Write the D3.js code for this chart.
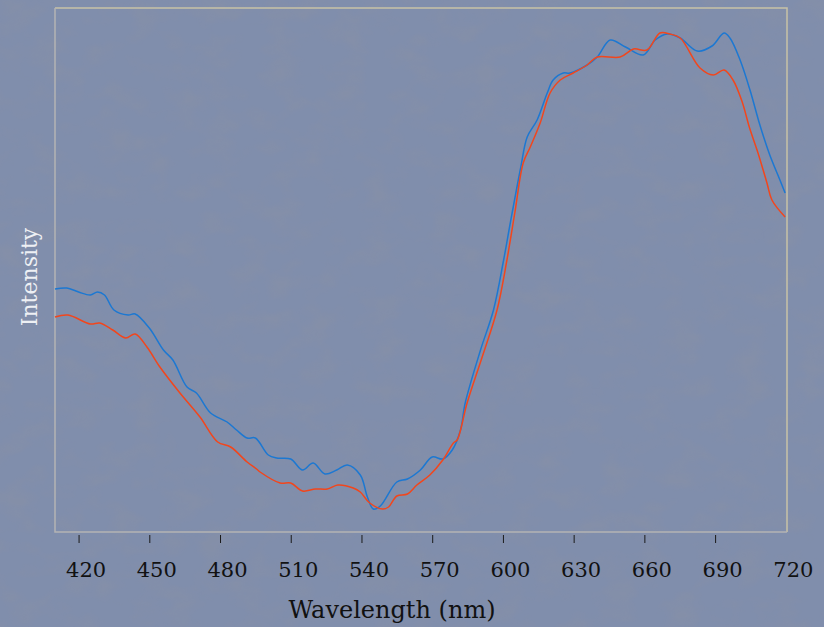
<!DOCTYPE html>
<html lang="en">
<head>
    <meta charset="UTF-8">
    <script src="https://cdn.jsdelivr.net/npm/d3@7.8.5/dist/d3.min.js"></script>
    <title>Spectrum</title>
    <style>
        body { margin: 0; background: #7c8aa8; }
        text { font-family: "DejaVu Serif", "Liberation Serif", serif; }
    </style>
</head>
<body>
<svg width="824" height="627"></svg>
<script>
// wavelength (nm) and intensity (arbitrary units)
var blueWl = [410, 415, 420, 425, 428, 431, 435, 441, 444, 450, 456, 460, 466, 470, 476, 483, 487, 491.5, 495,
    500.5, 504, 510, 515, 519.5, 524.5, 529.5, 534, 539.5, 542.5, 545, 548, 555, 559.5, 565, 570, 574.5, 578.5,
    582, 584, 590.5, 596, 600.3, 603.2, 607.6, 610.3, 614.5, 618.8, 621.3, 625.6, 628.5, 635.7, 640, 645.5, 652,
    659.5, 664.6, 669.7, 675.2, 682.4, 688.7, 693.8, 696.3, 700.6, 704.8, 709, 713.2, 717.5, 719.7];
var blueVal = [243, 244, 240, 237, 240, 237, 222, 217, 218, 204, 182, 172, 145, 139, 119, 110, 102, 94, 94,
    77, 74, 73, 62, 69, 58, 62, 67, 57, 35, 23, 26, 50, 53, 62, 75, 73, 82,
    102, 129, 182, 222, 272, 310, 365, 395, 412, 439, 452, 459, 459, 467, 475, 492, 485,
    477, 492, 498, 494, 481, 486, 499, 494, 472, 442, 407, 377, 352, 339];

var redWl = [410, 415.5, 425, 429, 434.5, 440, 444, 449, 454.5, 463, 471.5, 479, 484.5, 491.5, 495.5, 497,
    505.5, 510, 515, 520.5, 525.5, 530, 536.5, 539.5, 543.5, 549, 551.5, 555, 559.5, 563.5, 569, 574.5, 579,
    580.6, 584.8, 591.2, 597.5, 601.7, 605.1, 608.6, 611.6, 615.8, 620, 624.3, 629.8, 635.7, 640, 649.7, 655.4,
    661.1, 666.6, 670.8, 675.2, 683.6, 689.2, 693.8, 697.6, 701.5, 704.5, 708.2, 712, 714.1, 719.7];
var redVal = [215, 217, 208, 209, 202, 194, 198, 185, 165, 139, 115, 90, 85, 70, 63, 60,
    49, 49, 41, 43, 43, 47, 44, 40, 29, 23, 25, 36, 38, 47, 57, 72, 89,
    92, 129, 175, 222, 272, 320, 369, 385, 409, 439, 452, 459, 467, 475, 475, 483,
    482, 499, 498, 494, 464, 457, 462, 452, 430, 405, 379, 349, 332, 315];

var xTicks = [420, 450, 480, 510, 540, 570, 600, 630, 660, 690, 720];

var svg = d3.select("svg");
// plot frame edges (window.top is read-only, so no plain "top")
var plotL = 55, plotT = 8, plotR = 787, plotB = 532;

// textured background
var defs = svg.append("defs");
var f = defs.append("filter").attr("id", "tex").attr("x", 0).attr("y", 0).attr("width", "100%").attr("height", "100%");
f.append("feTurbulence").attr("type", "fractalNoise").attr("baseFrequency", "0.03 0.045").attr("numOctaves", 3).attr("seed", 4);
f.append("feColorMatrix").attr("type", "matrix")
    .attr("values", "0 0 0 0 0.25  0 0 0 0 0.28  0 0 0 0 0.38  0 0 0 -2.6 1.45");
svg.append("rect").attr("width", 824).attr("height", 627).attr("fill", "#808eac");
svg.append("rect").attr("width", 824).attr("height", 627).attr("filter", "url(#tex)").attr("opacity", 0.5);

var x = d3.scaleLinear().domain([410, 720.5]).range([plotL, plotR]);
var y = d3.scaleLinear().domain([0, 524]).range([plotB, plotT]);

// frame: top/right beige, left/bottom greyer
svg.append("path")
    .attr("d", "M" + plotL + "," + plotT + "H" + plotR + "V" + plotB)
    .attr("fill", "none").attr("stroke", "#c8c2a6").attr("stroke-width", 1.5);
svg.append("path")
    .attr("d", "M" + plotL + "," + plotT + "V" + plotB + "H" + plotR)
    .attr("fill", "none").attr("stroke", "#b4b4b4").attr("stroke-width", 1.5);

var line = d3.line()
    .x(function(d){ return x(d[0]); })
    .y(function(d){ return y(d[1]); })
    .curve(d3.curveCatmullRom.alpha(0.5));

svg.append("path").datum(d3.zip(blueWl, blueVal))
    .attr("fill", "none").attr("stroke", "#1c78d2").attr("stroke-width", 1.5).attr("d", line);
svg.append("path").datum(d3.zip(redWl, redVal))
    .attr("fill", "none").attr("stroke", "#f2461c").attr("stroke-width", 1.5).attr("d", line);

// x axis
var ax = svg.append("g").attr("transform", "translate(0," + (plotB + 3) + ")")
    .call(d3.axisBottom(x).tickValues(xTicks).tickSize(8).tickFormat(d3.format("d")));
ax.select(".domain").remove();
ax.selectAll(".tick line").attr("stroke", "#1a1a1a")
    .attr("display", function(d){ return d === 720 ? "none" : null; });
ax.selectAll(".tick text")
    .attr("y", 42).attr("dy", 0).attr("dx", 7)
    .attr("fill", "#111").style("font-size", "21px")
    .style("font-family", "'DejaVu Serif', serif");

svg.append("text")
    .attr("x", 392).attr("y", 618)
    .attr("text-anchor", "middle")
    .attr("fill", "#111").style("font-size", "24px")
    .text("Wavelength (nm)");

svg.append("text")
    .attr("transform", "translate(37,277) rotate(-90)")
    .attr("text-anchor", "middle")
    .attr("fill", "#eef0f4").style("font-size", "22px")
    .text("Intensity");
</script>
</body>
</html>
